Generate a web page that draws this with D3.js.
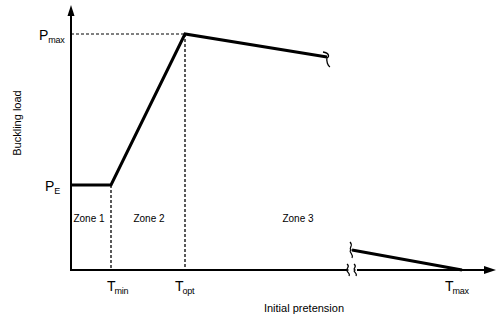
<!DOCTYPE html>
<html><head><meta charset="utf-8">
<script src="https://cdn.jsdelivr.net/npm/d3@7"></script>
<style>body{margin:0;background:#fff}svg{display:block}text{font-family:"Liberation Sans",Arial,sans-serif;fill:#000}</style>
</head><body><svg id="c" width="499" height="325"></svg>
<script>
// Data (arbitrary units)
const xTicks = [{name:"T", sub:"min", x:40}, {name:"T", sub:"opt", x:114}, {name:"T", sub:"max", x:391}];
const yTicks = [{name:"P", sub:"max", y:236}, {name:"P", sub:"E", y:85}];
const curveMain = [[0,85],[40,85],[114,236],[256,213]];
const curveTail = [[281,20],[391,0]];
const zones = [{label:"Zone 1", x:18},{label:"Zone 2", x:78},{label:"Zone 3", x:227}];
const zoneY = 52;
const xBreak = 278;

const svg = d3.select("#c");
const x = d3.scaleLinear().domain([0,425]).range([71,496]);
const y = d3.scaleLinear().domain([0,236]).range([270,34]);
const line = d3.line().x(d=>x(d[0])).y(d=>y(d[1]));

// dashed guides
svg.append("line").attr("x1",x(0)).attr("x2",x(114)).attr("y1",y(236)).attr("y2",y(236))
  .attr("stroke","#000").attr("stroke-width",1).attr("stroke-dasharray","3,2");
[40,114].forEach((v,i)=>{
  svg.append("line").attr("x1",x(v)).attr("x2",x(v)).attr("y1",y(i?236:85)).attr("y2",y(0))
    .attr("stroke","#000").attr("stroke-width",1.3).attr("stroke-dasharray","3,2");
});

// axes
svg.append("line").attr("x1",x(0)).attr("x2",x(0)).attr("y1",y(0)+1).attr("y2",12)
  .attr("stroke","#000").attr("stroke-width",2);
svg.append("path").attr("d",`M${x(0)-3.5},16 L${x(0)},5 L${x(0)+3.5},16 Z`).attr("fill","#000");
svg.append("line").attr("x1",x(0)).attr("x2",x(xBreak)-2).attr("y1",y(0)).attr("y2",y(0))
  .attr("stroke","#000").attr("stroke-width",2);
svg.append("line").attr("x1",x(xBreak)+8).attr("x2",486).attr("y1",y(0)).attr("y2",y(0))
  .attr("stroke","#000").attr("stroke-width",2);
svg.append("path").attr("d",`M484,${y(0)-4} L496,${y(0)} L484,${y(0)+4} Z`).attr("fill","#000");

// break marks on x axis
function squiggle(cx, cy, h){
  return `M${cx-1},${cy-h} C${cx+3},${cy-h/2} ${cx-3},${cy-h/4} ${cx},${cy} C${cx-3},${cy+h/4} ${cx+3},${cy+h/2} ${cx+1},${cy+h}`;
}
[x(xBreak)-1, x(xBreak)+6].forEach(cx=>{
  svg.append("path").attr("d",squiggle(cx,y(0),6)).attr("fill","none").attr("stroke","#000").attr("stroke-width",1.2);
});
// break marks on curve ends
svg.append("path").attr("d",`M${x(256)-4},52 C${x(256)+3},53 ${x(256)+2},57 ${x(256)},58 C${x(256)-1},61 ${x(256)+1},66 ${x(256)+3},67`)
  .attr("fill","none").attr("stroke","#000").attr("stroke-width",1.3);
svg.append("path").attr("d",squiggle(x(281)-1,y(20),8)).attr("fill","none").attr("stroke","#000").attr("stroke-width",1.2);

// curves
svg.append("path").attr("d",line(curveMain)).attr("fill","none").attr("stroke","#000").attr("stroke-width",3).attr("stroke-linejoin","miter");
svg.append("path").attr("d",line(curveTail)).attr("fill","none").attr("stroke","#000").attr("stroke-width",3);

// tick labels (label shifted left of the mark, more so further right)
const xLabelShift = [-4, -10, -17];
xTicks.forEach((t,i)=>{
  const tx = svg.append("text").attr("x",x(t.x)+xLabelShift[i]).attr("y",291).attr("font-size",14);
  tx.append("tspan").text(t.name);
  tx.append("tspan").attr("font-size",9).attr("dx",-1).attr("dy",3).attr("letter-spacing",-0.3).text(t.sub);
});
yTicks.forEach((t,i)=>{
  const tx = svg.append("text").attr("x",i?45:39).attr("y",y(t.y)+6).attr("font-size",14);
  tx.append("tspan").text(t.name);
  tx.append("tspan").attr("font-size",9).attr("dx",0).attr("dy",3).attr("letter-spacing",-0.3).text(t.sub);
});

// zone labels
zones.forEach(z=>{
  svg.append("text").attr("x",x(z.x)).attr("y",y(zoneY)+4).attr("text-anchor","middle")
    .attr("font-size",10).text(z.label);
});

// axis titles
svg.append("text").attr("x",304).attr("y",312).attr("text-anchor","middle").attr("font-size",11).text("Initial pretension");
svg.append("text").attr("transform","translate(21,123) rotate(-90)").attr("text-anchor","middle").attr("font-size",11).text("Buckling load");
</script></body></html>
